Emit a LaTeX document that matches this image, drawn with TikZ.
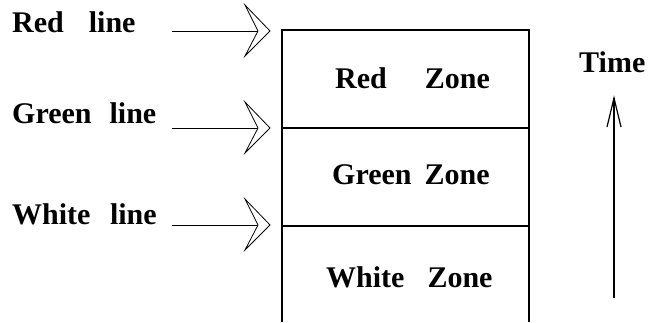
\documentclass[tikz,border=0pt]{standalone}
\usepackage{fontspec}
\setmainfont{Liberation Serif}
\begin{document}
\begin{tikzpicture}[x=1pt,y=-1pt,
  lbl/.style={anchor=base west,inner sep=0pt,font=\bfseries\fontsize{30}{35}\selectfont},
  thinline/.style={line width=0.8pt},
  boxline/.style={line width=1.6pt},
  chev/.pic={\draw[thinline,line join=miter] (-13,-26) -- (12,0) -- (-13,25) -- (0,0) -- cycle;}]
\useasboundingbox (0,0) rectangle (648,322);
% labels on the left
\node[lbl] (redl) at (12,32) {Red\hspace{25pt}line};
\node[lbl] (greenl) at (12,123) {Green\hspace{18pt}line};
\node[lbl] (whitel) at (12,224) {White\hspace{19.5pt}line};
% arrows
\coordinate (rs) at (172,31); \coordinate (re) at (258,31);
\coordinate (gs) at (172,128); \coordinate (ge) at (258,128);
\coordinate (ws) at (172,225); \coordinate (we) at (258,225);
\draw[thinline] (rs) -- (re);
\draw[thinline] (gs) -- (ge);
\draw[thinline] (ws) -- (we);
\pic at (re) {chev};
\pic at (ge) {chev};
\pic at (we) {chev};
% box
\coordinate (tl) at (282,30); \coordinate (tr) at (529,30);
\coordinate (bl) at (282,322); \coordinate (br) at (529,322);
\coordinate (d1l) at (282,128); \coordinate (d1r) at (529,128);
\coordinate (d2l) at (282,226); \coordinate (d2r) at (529,226);
\draw[boxline] (bl) -- (tl) -- (tr) -- (br);
\draw[boxline] (d1l) -- (d1r);
\draw[boxline] (d2l) -- (d2r);
% zone texts
\node[lbl] (redz) at (335,88) {Red\hspace{38pt}Zone};
\node[lbl] (greenz) at (332,184) {Green\hspace{13pt}Zone};
\node[lbl] (whitez) at (326,287) {White\hspace{23pt}Zone};
% time
\node[lbl] (time) at (579,72) {Time};
\coordinate (tb) at (614,298); \coordinate (tt) at (614,98);
\coordinate (hl) at (607,127); \coordinate (hr) at (621,127);
\draw[line width=1.2pt] (tb) -- (tt);
\draw[line width=1.2pt,line join=miter] (hl) -- (tt) -- (hr);
\end{tikzpicture}
\end{document}
